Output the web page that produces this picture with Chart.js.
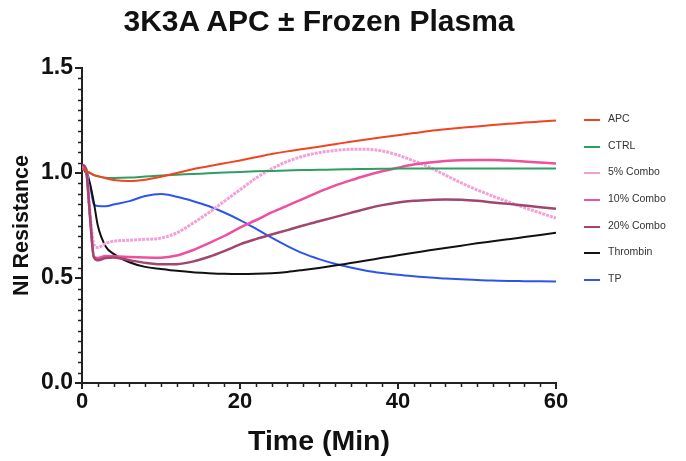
<!DOCTYPE html>
<html>
<head>
<meta charset="utf-8">
<script src="https://cdn.jsdelivr.net/npm/chart.js@4.4.1/dist/chart.umd.min.js"></script>
<style>
  html, body { margin: 0; padding: 0; background: #fff; }
  #wrap { position: relative; width: 686px; height: 461px; }
  #title { position: absolute; left: 60px; width: 518px; top: 4px; text-align: center;
    font-family: "Liberation Sans", Arial, sans-serif; font-weight: bold; font-size: 30px; color: #111; }
  #legend { position: absolute; left: 584px; top: 112px; font-family: "Liberation Sans", Arial, sans-serif;
    font-size: 10.5px; color: #333; }
  #legend .item { height: 26.7px; display: flex; align-items: flex-start; }
  #legend .sw { width: 16px; height: 2px; margin-top: 7px; margin-right: 8px; }
</style>
</head>
<body>
<div id="wrap">
  <canvas id="c" width="686" height="461"></canvas>
  <div id="title">3K3A APC ± Frozen Plasma</div>
  <div id="legend"></div>
</div>
<script>
// ---- data ----
const times = [0,0.5,1,1.5,2,3,4,6,8,10,12,14,16,18,20,22,24,26,28,30,32,34,36,38,40,42,44,46,48,50,52,54,56,58,60];

const apc      = [1.02,1.01,1.0,0.99,0.985,0.975,0.967,0.962,0.968,0.982,1.0,1.018,1.032,1.046,1.06,1.075,1.09,1.103,1.114,1.125,1.137,1.149,1.16,1.17,1.18,1.19,1.2,1.208,1.215,1.222,1.228,1.234,1.24,1.245,1.25];
const ctrl     = [1.02,1.01,1.0,0.99,0.985,0.978,0.976,0.978,0.983,0.988,0.992,0.995,0.999,1.002,1.005,1.008,1.01,1.012,1.014,1.015,1.017,1.018,1.019,1.02,1.021,1.021,1.021,1.022,1.022,1.022,1.022,1.022,1.022,1.022,1.022];
const combo5   = [1.03,1.02,0.82,0.66,0.645,0.665,0.675,0.68,0.684,0.69,0.715,0.76,0.81,0.865,0.92,0.975,1.02,1.055,1.08,1.097,1.107,1.113,1.113,1.105,1.085,1.058,1.027,0.99,0.953,0.92,0.89,0.862,0.835,0.81,0.785];
const combo10  = [1.03,1.02,0.8,0.6,0.595,0.605,0.603,0.6,0.598,0.597,0.607,0.632,0.665,0.7,0.74,0.775,0.812,0.845,0.877,0.91,0.94,0.965,0.988,1.008,1.025,1.04,1.05,1.057,1.061,1.062,1.062,1.059,1.055,1.05,1.045];
const combo20  = [1.04,1.02,0.8,0.6,0.585,0.595,0.598,0.585,0.572,0.565,0.566,0.578,0.6,0.628,0.66,0.685,0.707,0.728,0.75,0.77,0.79,0.81,0.83,0.847,0.86,0.868,0.872,0.874,0.873,0.868,0.86,0.853,0.845,0.837,0.83];
const thrombin = [1.03,1.0,0.95,0.86,0.75,0.65,0.615,0.575,0.553,0.543,0.534,0.527,0.523,0.52,0.519,0.52,0.523,0.529,0.538,0.548,0.559,0.571,0.583,0.596,0.608,0.62,0.632,0.643,0.654,0.665,0.675,0.685,0.695,0.705,0.715];
const tp       = [1.03,1.02,0.95,0.85,0.843,0.842,0.85,0.866,0.89,0.9,0.887,0.867,0.843,0.812,0.776,0.735,0.692,0.652,0.617,0.59,0.568,0.55,0.535,0.524,0.515,0.508,0.502,0.498,0.494,0.49,0.488,0.486,0.485,0.484,0.483];

const seriesNames = ["APC","CTRL","5% Combo","10% Combo","20% Combo","Thrombin","TP"];
const seriesData  = [apc, ctrl, combo5, combo10, combo20, thrombin, tp];
const xTickLabels = [0, 20, 40, 60];
const yTickLabels = [0.0, 0.5, 1.0, 1.5];

// ---- styles ----
const colors = ["#f2441f","#2f9e62","#f4a0d8","#ef4f9c","#a1466e","#111111","#2d55ee"];
const widths = [2,2,3,2.5,2.5,2,2];
const dashes = [[],[],[3,1],[],[],[],[]];

const datasets = seriesNames.map((n, i) => ({
  label: n,
  data: times.map((t, k) => ({x: t, y: seriesData[i][k]})),
  borderColor: colors[i],
  backgroundColor: colors[i],
  borderWidth: widths[i],
  borderDash: dashes[i],
  pointRadius: 0,
  cubicInterpolationMode: 'monotone',
  fill: false
}));
datasets.forEach((d, i) => d.order = [1,2,5,4,3,6,7][i]);

const minorTicks = {
  id: 'minorTicks',
  afterDraw(chart) {
    const ctx = chart.ctx, xs = chart.scales.x, ys = chart.scales.y;
    ctx.save();
    ctx.strokeStyle = '#222';
    ctx.lineWidth = 1.5;
    for (let t = 0; t <= 60; t += 2) {
      if (t % 20 === 0) continue;
      const px = Math.round(xs.getPixelForValue(t)) + 0.5;
      ctx.beginPath(); ctx.moveTo(px, ys.bottom); ctx.lineTo(px, ys.bottom + 4); ctx.stroke();
    }
    for (let k = 0; k <= 30; k++) {
      if (k % 10 === 0) continue;
      const py = Math.round(ys.getPixelForValue(k * 0.05)) + 0.5;
      ctx.beginPath(); ctx.moveTo(xs.left, py); ctx.lineTo(xs.left - 4, py); ctx.stroke();
    }
    ctx.restore();
  }
};

const fontFam = '"Liberation Sans", Arial, sans-serif';
new Chart(document.getElementById('c'), {
  type: 'line',
  data: { datasets },
  options: {
    responsive: false,
    animation: false,
    layout: { padding: { left: 0, top: 68, right: 130, bottom: 0 } },
    plugins: { legend: { display: false }, title: { display: false }, tooltip: { enabled: false } },
    scales: {
      x: {
        type: 'linear', min: 0, max: 60,
        afterFit: s => { s.height = 78; },
        afterBuildTicks: s => { s.ticks = xTickLabels.map(v => ({value: v})); },
        ticks: { color: '#111', font: { family: fontFam, weight: 'bold', size: 22 }, padding: 0, maxRotation: 0 },
        grid: { drawOnChartArea: false, drawTicks: true, tickLength: 6, color: '#222', lineWidth: 2 },
        border: { display: true, color: '#222', width: 2 },
        title: { display: true, text: 'Time (Min)', color: '#111', font: { family: fontFam, weight: 'bold', size: 28.5 }, padding: { top: 0, bottom: 2 } }
      },
      y: {
        type: 'linear', min: 0, max: 1.5,
        afterFit: s => { s.width = 82; },
        afterBuildTicks: s => { s.ticks = yTickLabels.map(v => ({value: v})); },
        ticks: { color: '#111', font: { family: fontFam, weight: 'bold', size: 23 }, padding: 2, callback: v => Number(v).toFixed(1) },
        grid: { drawOnChartArea: false, drawTicks: true, tickLength: 7, color: '#222', lineWidth: 2 },
        border: { display: true, color: '#222', width: 2 },
        title: { display: true, text: 'NI Resistance', color: '#111', font: { family: fontFam, weight: 'bold', size: 21.5 }, padding: { top: 9, bottom: 0 } }
      }
    }
  },
  plugins: [minorTicks]
});

const lg = document.getElementById('legend');
seriesNames.forEach((n, i) => {
  const it = document.createElement('div'); it.className = 'item';
  const sw = document.createElement('span'); sw.className = 'sw'; sw.style.background = colors[i];
  const tx = document.createElement('span'); tx.textContent = n;
  it.appendChild(sw); it.appendChild(tx); lg.appendChild(it);
});
</script>
</body>
</html>
